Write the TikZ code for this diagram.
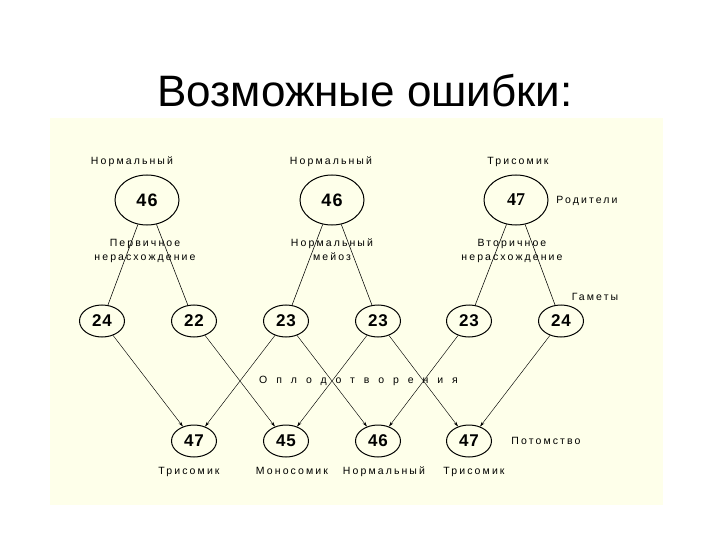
\documentclass[tikz,border=0pt]{standalone}
\usepackage{fontspec}
\setmainfont{Liberation Sans}
\newfontfamily\scanfont{Liberation Sans}[LetterSpace=20]
\newfontfamily\numsans{Liberation Sans}[LetterSpace=6]
\newfontfamily\serifnum{Liberation Serif}
\usetikzlibrary{arrows.meta,shapes.geometric}
\definecolor{ScanCrema}{RGB}{254,255,234}

\begin{document}
\begin{tikzpicture}[x=1pt,y=-1pt,
    parent/.style={draw,ellipse,line width=1pt,minimum width=64pt,minimum height=50pt,inner sep=0pt,font=\numsans\fontsize{18}{18}\selectfont\bfseries},
    gamete/.style={draw,ellipse,line width=1pt,minimum width=45pt,minimum height=32pt,inner sep=0pt,font=\numsans\fontsize{17}{17}\selectfont\bfseries},
    lbl/.style={font=\scanfont\fontsize{10.5}{14}\selectfont,inner sep=1pt},
    word/.style={lbl,text height=8pt,text depth=2.5pt},
    cross/.style={line width=0.45pt,-{Stealth[length=5pt,width=3pt]}}]
  \useasboundingbox (0,0) rectangle (720,540);
  \fill[ScanCrema] (50,118) rectangle (663,505);
  \node[font=\fontsize{44}{44}\selectfont,anchor=base] (titulo) at (365,107) {Возможные ошибки:};

  \foreach \n/\x [count=\i] in {46/147,46/332,{\serifnum 47}/516}
    \node[parent] (p\i) at (\x,200) {\n};
  \foreach \n/\x [count=\i] in {24/102,22/194,23/286,23/378,23/469,24/561}
    \node[gamete] (g\i) at (\x,321) {\n};
  \foreach \n/\x [count=\i] in {47/194,45/286,46/378,47/469}
    \node[gamete] (o\i) at (\x,441) {\n};

  % meiosis
  \foreach \i/\a/\b in {1/1/2,2/3/4,3/5/6}{
    \draw[line width=0.55pt] (p\i) -- (g\a);
    \draw[line width=0.55pt] (p\i) -- (g\b);
  }
  % fertilisation
  \foreach \a/\b in {1/1,2/2,3/1,3/3,4/2,4/4,5/3,6/4}
    \draw[cross] (g\a) -- (o\b);

  \node[word] (np1) at (132,162) {Нормальный};
  \node[word] (np2) at (331,162) {Нормальный};
  \node[word] (np3) at (518,162) {Трисомик};
  \node[word] (rod) at (587,201) {Родители};
  \node[lbl,align=center] (m1) at (145,251) {Первичное\\нерасхождение};
  \node[lbl,align=center] (m2) at (332,250) {Нормальный\\мейоз};
  \node[lbl,align=center] (m3) at (512,251) {Вторичное\\нерасхождение};
  \node[word] (gam) at (595,298) {Гаметы};
  \node[word,anchor=west] (opl) at (258,381) {\addfontfeature{LetterSpace=85}Оплодотворения};
  \node[word] (pot) at (546,442) {Потомство};
  \foreach \t/\x [count=\i] in {Трисомик/189,Моносомик/292,Нормальный/384,Трисомик/474}
    \node[word] (t\i) at (\x,472) {\t};
\end{tikzpicture}
\end{document}
